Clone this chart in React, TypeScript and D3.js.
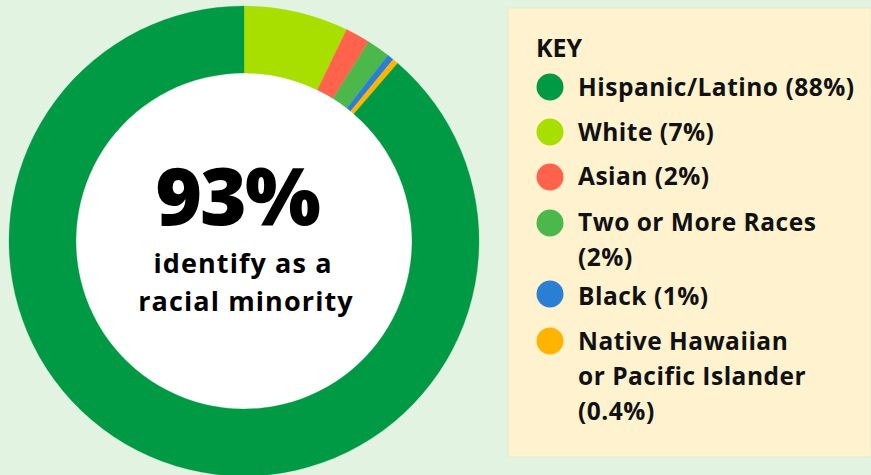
import React from "react";
import * as d3 from "d3";

const categories = ["Hispanic/Latino", "White", "Asian", "Two or More Races", "Black", "Native Hawaiian or Pacific Islander"];
const arcValues = [88.7, 7.2, 1.7, 1.6, 0.45, 0.4];
const colors = ["#009a44", "#a8df00", "#ff634b", "#4cb84c", "#2a7fd5", "#ffb401"];
const legendLines = [
  ["Hispanic/Latino (88%)"],
  ["White (7%)"],
  ["Asian (2%)"],
  ["Two or More Races", "(2%)"],
  ["Black (1%)"],
  ["Native Hawaiian", "or Pacific Islander", "(0.4%)"],
];
const legendDotY = [87, 132, 177, 223, 294, 341];
const legendBaseY = [96, 141, 185, 231, 305, 350];

const FONT = "'Open Sans', Lato, sans-serif";

export default function App() {
  const W = 871, H = 475;
  const cx = 244, cy = 241, outerR = 235, innerR = 168;
  const order = [1, 2, 3, 4, 5, 0];
  const pie = d3.pie<number>().sort(null).value((i) => arcValues[i]);
  const arcs = pie(order);
  const arcGen = d3.arc<d3.PieArcDatum<number>>().innerRadius(innerR).outerRadius(outerR);

  return (
    <svg width={W} height={H} style={{ position: "absolute", left: 0, top: 0 }}>
      <rect x={0} y={0} width={W} height={H} fill="#e2f3e2" />
      <g transform={`translate(${cx},${cy})`}>
        <circle r={innerR} fill="#ffffff" />
        {arcs.map((a) => (
          <path key={a.data} d={arcGen(a) || ""} fill={colors[a.data]} stroke={colors[a.data]} strokeWidth={0.3} />
        ))}
      </g>
      <g fontFamily={FONT} fontWeight={700} fill="#000" textAnchor="middle">
        <text x={237} y={225} fontSize={80} fontWeight={800} letterSpacing={-2}>93%</text>
        <text x={243} y={273} fontSize={27} letterSpacing={1.1}>identify as a</text>
        <text x={246} y={311} fontSize={27} letterSpacing={1.1}>racial minority</text>
      </g>
      <rect x={508} y={8} width={363} height={449} fill="#fff3cf" stroke="#dfeec5" strokeWidth={1} />
      <g fontFamily={FONT} fontWeight={700} fill="#111">
        <text x={536} y={57} fontSize={25}>KEY</text>
        {categories.map((c, i) => (
          <g key={c}>
            <circle cx={550} cy={legendDotY[i]} r={13.5} fill={colors[i]} />
            {legendLines[i].map((l, j) => (
              <text key={j} x={578} y={legendBaseY[i] + j * 35} fontSize={24.5} letterSpacing={0.5}>{l}</text>
            ))}
          </g>
        ))}
      </g>
    </svg>
  );
}
